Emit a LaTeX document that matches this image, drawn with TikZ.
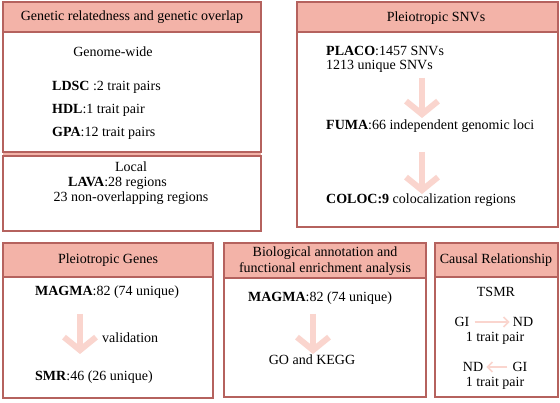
\documentclass[tikz,border=0pt]{standalone}
\usepackage{fontspec}
\setmainfont{Liberation Serif}
\usetikzlibrary{arrows.meta}

\definecolor{headpink}{HTML}{F3B3A8}
\definecolor{boxred}{HTML}{B5625E}
\definecolor{arrowpink}{HTML}{FAD5CE}

\tikzset{
  panel/.style={draw=boxred, line width=1.1pt, fill=white},
  headbar/.style={draw=boxred, line width=1.1pt, fill=headpink},
  txt/.style={inner sep=0pt, font=\fontsize{14}{16}\selectfont},
  ltxt/.style={txt, anchor=west},
  bigarrow/.style={draw=arrowpink, line width=6pt, -{Straight Barb[length=13pt, width=32pt, line width=6pt]}},
  thinarrow/.style={draw=arrowpink, line width=1.6pt, -{Straight Barb[length=5pt, width=10pt]}, shorten <=5pt, shorten >=3pt},
}

\begin{document}
\begin{tikzpicture}[x=1pt, y=-1pt]
    \useasboundingbox (0,0) rectangle (560,403);

    % Cuadros
    \fill[headpink] (3,151) rectangle (261,157);
    \draw[panel] (3,2) rectangle (261,152);
    \draw[headbar] (3,2) rectangle (261,32);
    \draw[panel] (3,156) rectangle (261,231);
    \draw[panel] (297,2) rectangle (558,227);
    \draw[headbar] (297,2) rectangle (558,32);
    \draw[panel] (3,243) rectangle (213,398);
    \draw[headbar] (3,243) rectangle (213,277);
    \draw[panel] (224,243) rectangle (426,397);
    \draw[headbar] (224,243) rectangle (426,278);
    \draw[panel] (435,243) rectangle (558,397);
    \draw[headbar] (435,243) rectangle (558,277);

    % Relación genética
    \node[txt] (hgen) at (132,17) {Genetic relatedness and genetic overlap};
    \node[txt] (gwide) at (113,52) {Genome-wide};
    \node[ltxt] (ldsc) at (52,87) {\textbf{LDSC} :2 trait pairs};
    \node[ltxt] (hdl) at (52,110) {\textbf{HDL}:1 trait pair};
    \node[ltxt] (gpa) at (52,133) {\textbf{GPA}:12 trait pairs};
    \node[txt] (local) at (131,167) {Local};
    \node[ltxt] (lava) at (68,183) {\textbf{LAVA}:28 regions};
    \node[txt] (nonov) at (131,198) {23 non-overlapping regions};

    % SNVs pleiotrópicos
    \node[txt] (hsnv) at (436,18) {Pleiotropic SNVs};
    \node[ltxt] (placo) at (326,51) {\textbf{PLACO}:1457 SNVs};
    \node[ltxt] (usnv) at (326,66) {1213 unique SNVs};
    \node[ltxt] (fuma) at (326,126) {\textbf{FUMA}:66 independent genomic loci};
    \node[ltxt] (coloc) at (326,200) {\textbf{COLOC:9} colocalization regions};
    \coordinate (a1s) at (422,78);
    \coordinate (a1e) at (422,118);
    \coordinate (a2s) at (422,152);
    \coordinate (a2e) at (422,194);
    \draw[bigarrow] (a1s) -- (a1e);
    \draw[bigarrow] (a2s) -- (a2e);

    % Genes pleiotrópicos
    \node[txt] (hgenes) at (108,260) {Pleiotropic Genes};
    \node[txt] (magmaA) at (107,292) {\textbf{MAGMA}:82 (74 unique)};
    \node[ltxt] (valid) at (102,338) {validation};
    \node[ltxt] (smr) at (35,377) {\textbf{SMR}:46 (26 unique)};
    \coordinate (a3s) at (80,314);
    \coordinate (a3e) at (80,354);
    \draw[bigarrow] (a3s) -- (a3e);

    % Anotación biológica
    \node[txt, align=center] (hbio) at (325,261)
      {Biological annotation and\\functional enrichment analysis};
    \node[txt] (magmaB) at (320,298) {\textbf{MAGMA}:82 (74 unique)};
    \node[txt] (gokegg) at (312,360) {GO and KEGG};
    \coordinate (a4s) at (313,314);
    \coordinate (a4e) at (313,354);
    \draw[bigarrow] (a4s) -- (a4e);

    % Relación causal
    \node[txt] (hcausal) at (496,260) {Causal Relationship};
    \node[txt] (tsmr) at (496,292) {TSMR};
    \node[txt] (giA) at (462,322) {GI};
    \node[txt] (ndA) at (523,322) {ND};
    \node[txt] (tpA) at (495,338) {1 trait pair};
    \node[txt] (ndB) at (473,367) {ND};
    \node[txt] (giB) at (520,367) {GI};
    \node[txt] (tpB) at (495,383) {1 trait pair};
    \draw[thinarrow] (giA) -- (ndA);
    \draw[thinarrow] (giB) -- (ndB);

\end{tikzpicture}
\end{document}
